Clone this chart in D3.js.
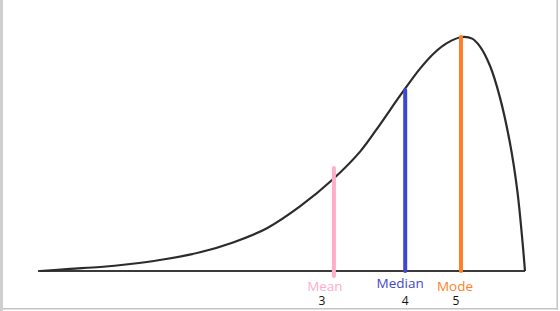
<!DOCTYPE html>
<html>
<head>
<meta charset="utf-8">
<script src="https://cdn.jsdelivr.net/npm/d3@7"></script>
<style>
    html, body { margin: 0; padding: 0; background: #fff; }
    svg { display: block; }
</style>
</head>
<body>
<div class="content"></div>
<script>
// curve of the skewed distribution, x in 0..100, density 0..1
const curveX = [0, 6.2, 12.4, 18.6, 24.7, 33.0, 39.8, 46.8, 53.6, 60.4, 66.0, 70.1, 74.2, 78.4, 81.4, 83.9, 87.0, 89.1, 90.7, 92.8, 94.8, 96.9, 98.4, 99.4, 100];
const curveY = [0, 0.009, 0.017, 0.030, 0.047, 0.080, 0.122, 0.183, 0.276, 0.392, 0.510, 0.626, 0.748, 0.866, 0.934, 0.974, 1.0, 0.993, 0.960, 0.876, 0.744, 0.547, 0.346, 0.145, 0];

const statNames = ["Mean", "Median", "Mode"];
const statX = [60.6, 75.3, 86.8];
const statTop = [0.44, 0.774, 1.0];
const statTicks = ["3", "4", "5"];
const statColors = ["#ffaec9", "#3f48cc", "#ff7f27"];

const width = 560;
const height = 311;

const svg = d3.select(".content").append("svg")
    .attr("width", width)
    .attr("height", height);

const x = d3.scaleLinear().domain([0, 100]).range([40, 525]);
const y = d3.scaleLinear().domain([0, 1]).range([271, 37]);

// frame
svg.append("rect").attr("x", 0).attr("y", 0).attr("width", 3).attr("height", height).attr("fill", "#cfcfcf");
svg.append("rect").attr("x", 556.5).attr("y", 0).attr("width", 1.5).attr("height", 309.5).attr("fill", "#c4c4c4");
svg.append("rect").attr("x", 3).attr("y", 308).attr("width", 555).attr("height", 1.5).attr("fill", "#c4c4c4");

// baseline
svg.append("line")
    .attr("x1", x(0) - 2)
    .attr("x2", x(100))
    .attr("y1", y(0))
    .attr("y2", y(0))
    .attr("stroke", "#3a3a3a")
    .attr("stroke-width", 2);

// distribution curve
const points = curveX.map((d, i) => [d, curveY[i]]);
const line = d3.line()
    .x(d => x(d[0]))
    .y(d => y(d[1]))
    .curve(d3.curveCatmullRom.alpha(0.5));

svg.append("path")
    .attr("d", line(points))
    .attr("fill", "none")
    .attr("stroke", "#2b2b2b")
    .attr("stroke-width", 2.2);

// mean / median / mode markers
const labelDx = [-9, -5, -6];
const labelY = [291, 288, 291];
const tickDx = [-12, 0, -5];

statNames.forEach((name, i) => {
    const cx = x(statX[i]);
    svg.append("line")
        .attr("x1", cx)
        .attr("x2", cx)
        .attr("y1", y(statTop[i]))
        .attr("y2", i === 0 ? y(0) + 5 : y(0))
        .attr("stroke", statColors[i])
        .attr("stroke-width", 4)
        .attr("stroke-linecap", "round");

    svg.append("text")
        .attr("x", cx + labelDx[i])
        .attr("y", labelY[i])
        .attr("text-anchor", "middle")
        .attr("font-family", "Open Sans")
        .attr("font-size", 13.5)
        .attr("fill", statColors[i])
        .text(name);

    svg.append("text")
        .attr("x", cx + tickDx[i])
        .attr("y", 305)
        .attr("text-anchor", "middle")
        .attr("font-family", "Open Sans")
        .attr("font-size", 12)
        .attr("fill", "#111")
        .text(statTicks[i]);
});
</script>
</body>
</html>
